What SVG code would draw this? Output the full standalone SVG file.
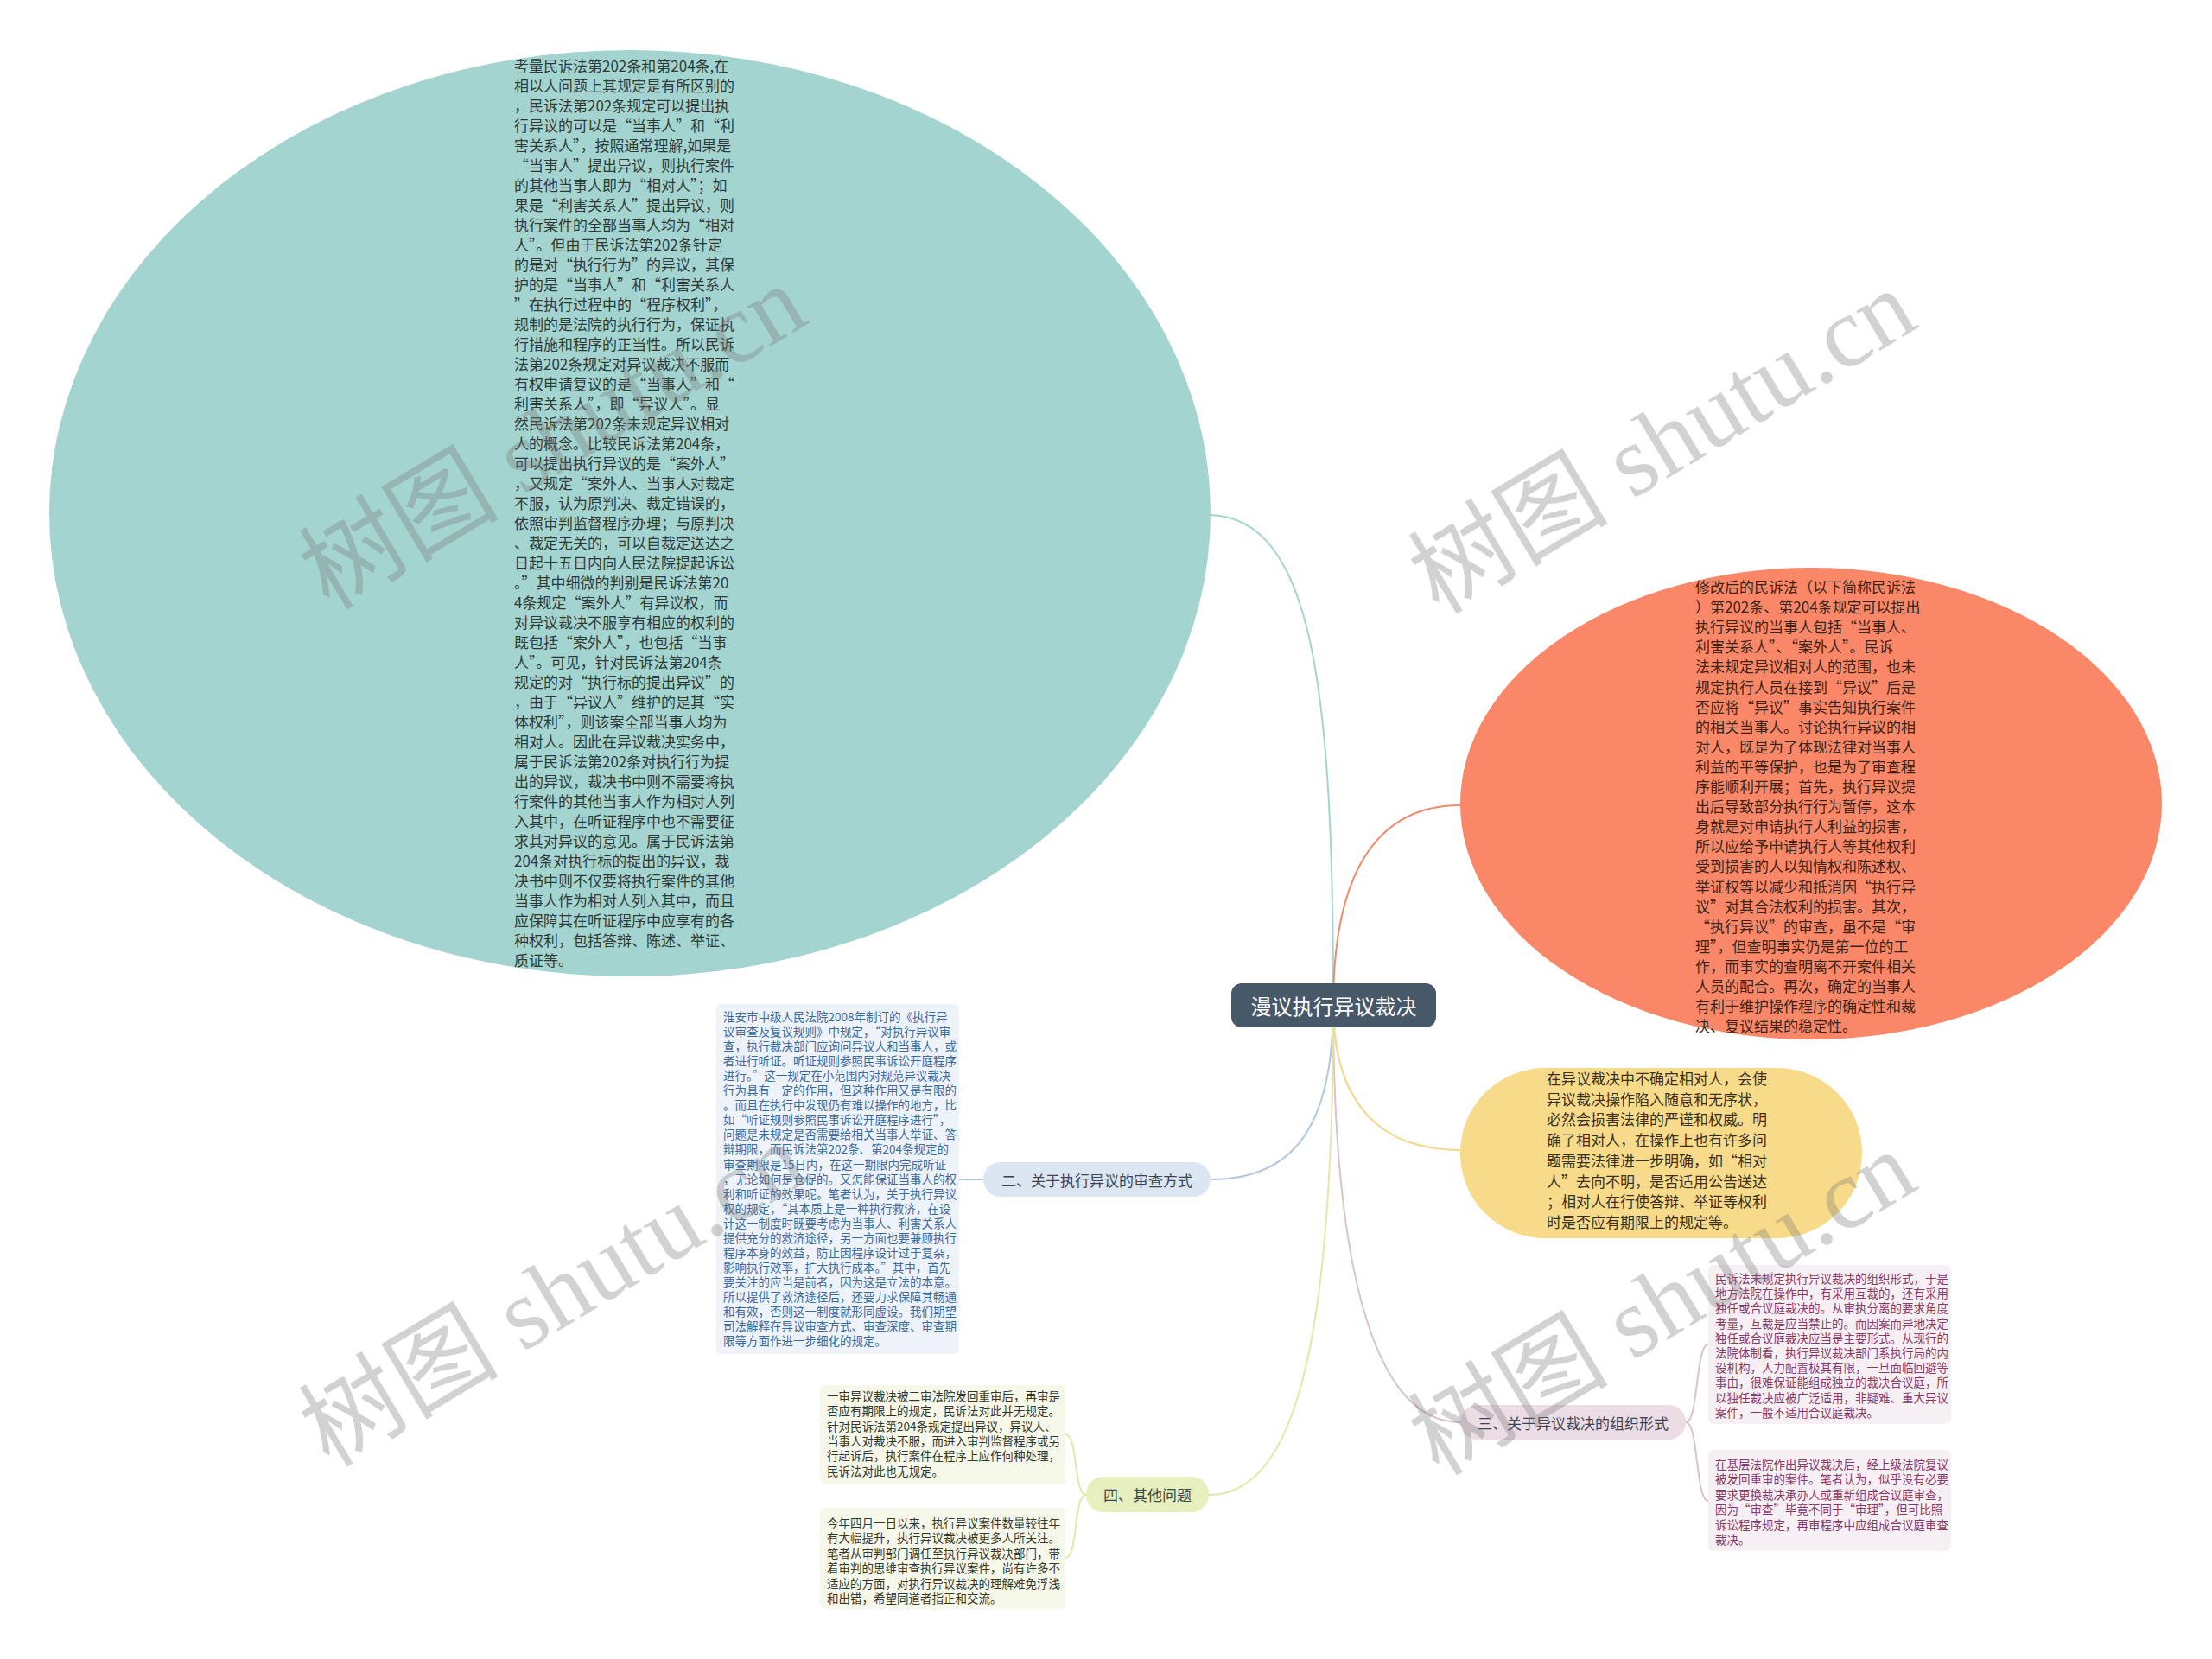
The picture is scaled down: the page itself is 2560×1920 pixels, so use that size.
<svg xmlns="http://www.w3.org/2000/svg" width="2560" height="1920" viewBox="0 0 2560 1920">
<style>
.t{font-family:"Noto Sans CJK SC","Noto Sans",sans-serif;}
.big{font-size:17px;}
.sm{font-size:13.5px;}
.lbl{font-size:17px;text-anchor:middle;dominant-baseline:central;fill:#3b4654;}
.ln{fill:none;stroke-width:2;}
.wm{font-family:"Liberation Serif","Noto Sans CJK SC",serif;font-size:116px;fill:#777;opacity:0.32;text-anchor:middle;}
</style>
<rect width="2560" height="1920" fill="#ffffff"/>
<g id="connectors">
<path class="ln" stroke="#a4d4cf" d="M1543 1163 C1543 800 1520 600 1401 596"/>
<path class="ln" stroke="#f08a6c" d="M1543 1163 C1543 1000 1600 932 1690 932"/>
<path class="ln" stroke="#f3d582" d="M1543 1163 C1543 1280 1600 1331 1690 1331"/>
<path class="ln" stroke="#b0c8e0" d="M1543 1163 C1543 1300 1500 1365 1401 1365"/>
<path class="ln" stroke="#d9c3cf" d="M1543 1163 C1543 1500 1600 1646 1690 1646"/>
<path class="ln" stroke="#e0e8a8" d="M1543 1163 C1543 1550 1500 1730 1399 1730"/>
<path class="ln" stroke="#b0c8e0" d="M1138 1365 L1110 1365"/>
<path class="ln" stroke="#d9c3cf" d="M1951 1646 C1966 1646 1962 1556 1977 1556"/>
<path class="ln" stroke="#d9c3cf" d="M1951 1646 C1966 1646 1962 1737 1977 1737"/>
<path class="ln" stroke="#e0e8a8" d="M1257 1730 C1242 1730 1248 1660 1233 1660"/>
<path class="ln" stroke="#e0e8a8" d="M1257 1730 C1242 1730 1248 1803 1233 1803"/>
</g>
<g id="n-teal">
<ellipse cx="729" cy="594" rx="672" ry="536" fill="#a4d4cf"/>
<text class="t big" fill="#2f3a38">
<tspan x="595" y="83">考量民诉法第202条和第204条,在</tspan>
<tspan x="595" y="106">相以人问题上其规定是有所区别的</tspan>
<tspan x="595" y="129">，民诉法第202条规定可以提出执</tspan>
<tspan x="595" y="152">行异议的可以是“当事人”和“利</tspan>
<tspan x="595" y="175">害关系人”，按照通常理解,如果是</tspan>
<tspan x="595" y="198">“当事人”提出异议，则执行案件</tspan>
<tspan x="595" y="221">的其他当事人即为“相对人”；如</tspan>
<tspan x="595" y="244">果是“利害关系人”提出异议，则</tspan>
<tspan x="595" y="267">执行案件的全部当事人均为“相对</tspan>
<tspan x="595" y="290">人”。但由于民诉法第202条针定</tspan>
<tspan x="595" y="313">的是对“执行行为”的异议，其保</tspan>
<tspan x="595" y="336">护的是“当事人”和“利害关系人</tspan>
<tspan x="595" y="359">”在执行过程中的“程序权利”，</tspan>
<tspan x="595" y="382">规制的是法院的执行行为，保证执</tspan>
<tspan x="595" y="405">行措施和程序的正当性。所以民诉</tspan>
<tspan x="595" y="428">法第202条规定对异议裁决不服而</tspan>
<tspan x="595" y="451">有权申请复议的是“当事人”和“</tspan>
<tspan x="595" y="474">利害关系人”，即“异议人”。显</tspan>
<tspan x="595" y="497">然民诉法第202条未规定异议相对</tspan>
<tspan x="595" y="520">人的概念。比较民诉法第204条，</tspan>
<tspan x="595" y="543">可以提出执行异议的是“案外人”</tspan>
<tspan x="595" y="566">，又规定“案外人、当事人对裁定</tspan>
<tspan x="595" y="589">不服，认为原判决、裁定错误的，</tspan>
<tspan x="595" y="612">依照审判监督程序办理；与原判决</tspan>
<tspan x="595" y="635">、裁定无关的，可以自裁定送达之</tspan>
<tspan x="595" y="658">日起十五日内向人民法院提起诉讼</tspan>
<tspan x="595" y="681">。”其中细微的判别是民诉法第20</tspan>
<tspan x="595" y="704">4条规定“案外人”有异议权，而</tspan>
<tspan x="595" y="727">对异议裁决不服享有相应的权利的</tspan>
<tspan x="595" y="750">既包括“案外人”，也包括“当事</tspan>
<tspan x="595" y="773">人”。可见，针对民诉法第204条</tspan>
<tspan x="595" y="796">规定的对“执行标的提出异议”的</tspan>
<tspan x="595" y="819">，由于“异议人”维护的是其“实</tspan>
<tspan x="595" y="842">体权利”，则该案全部当事人均为</tspan>
<tspan x="595" y="865">相对人。因此在异议裁决实务中，</tspan>
<tspan x="595" y="888">属于民诉法第202条对执行行为提</tspan>
<tspan x="595" y="911">出的异议，裁决书中则不需要将执</tspan>
<tspan x="595" y="934">行案件的其他当事人作为相对人列</tspan>
<tspan x="595" y="957">入其中，在听证程序中也不需要征</tspan>
<tspan x="595" y="980">求其对异议的意见。属于民诉法第</tspan>
<tspan x="595" y="1003">204条对执行标的提出的异议，裁</tspan>
<tspan x="595" y="1026">决书中则不仅要将执行案件的其他</tspan>
<tspan x="595" y="1049">当事人作为相对人列入其中，而且</tspan>
<tspan x="595" y="1072">应保障其在听证程序中应享有的各</tspan>
<tspan x="595" y="1095">种权利，包括答辩、陈述、举证、</tspan>
<tspan x="595" y="1118">质证等。</tspan>
</text>
</g>
<g id="n-orange">
<ellipse cx="2096" cy="930" rx="406" ry="273" fill="#fa8868"/>
<text class="t big" fill="#3a2418">
<tspan x="1962" y="686">修改后的民诉法（以下简称民诉法</tspan>
<tspan x="1962" y="709.1">）第202条、第204条规定可以提出</tspan>
<tspan x="1962" y="732.2">执行异议的当事人包括“当事人、</tspan>
<tspan x="1962" y="755.3">利害关系人”、“案外人”。民诉</tspan>
<tspan x="1962" y="778.4">法未规定异议相对人的范围，也未</tspan>
<tspan x="1962" y="801.5">规定执行人员在接到“异议”后是</tspan>
<tspan x="1962" y="824.6">否应将“异议”事实告知执行案件</tspan>
<tspan x="1962" y="847.7">的相关当事人。讨论执行异议的相</tspan>
<tspan x="1962" y="870.8">对人，既是为了体现法律对当事人</tspan>
<tspan x="1962" y="893.9">利益的平等保护，也是为了审查程</tspan>
<tspan x="1962" y="917">序能顺利开展；首先，执行异议提</tspan>
<tspan x="1962" y="940.1">出后导致部分执行行为暂停，这本</tspan>
<tspan x="1962" y="963.2">身就是对申请执行人利益的损害，</tspan>
<tspan x="1962" y="986.3">所以应给予申请执行人等其他权利</tspan>
<tspan x="1962" y="1009.4">受到损害的人以知情权和陈述权、</tspan>
<tspan x="1962" y="1032.5">举证权等以减少和抵消因“执行异</tspan>
<tspan x="1962" y="1055.6">议”对其合法权利的损害。其次，</tspan>
<tspan x="1962" y="1078.7">“执行异议”的审查，虽不是“审</tspan>
<tspan x="1962" y="1101.8">理”，但查明事实仍是第一位的工</tspan>
<tspan x="1962" y="1124.9">作，而事实的查明离不开案件相关</tspan>
<tspan x="1962" y="1148">人员的配合。再次，确定的当事人</tspan>
<tspan x="1962" y="1171.1">有利于维护操作程序的确定性和裁</tspan>
<tspan x="1962" y="1194.2">决、复议结果的稳定性。</tspan>
</text>
</g>
<g id="n-yellow">
<rect x="1690" y="1236" width="465" height="197" rx="98" ry="98" fill="#f8db8a"/>
<text class="t big" fill="#3a3020">
<tspan x="1790" y="1255">在异议裁决中不确定相对人，会使</tspan>
<tspan x="1790" y="1278.7">异议裁决操作陷入随意和无序状，</tspan>
<tspan x="1790" y="1302.4">必然会损害法律的严谨和权威。明</tspan>
<tspan x="1790" y="1326.1">确了相对人，在操作上也有许多问</tspan>
<tspan x="1790" y="1349.8">题需要法律进一步明确，如“相对</tspan>
<tspan x="1790" y="1373.5">人”去向不明，是否适用公告送达</tspan>
<tspan x="1790" y="1397.2">；相对人在行使答辩、举证等权利</tspan>
<tspan x="1790" y="1420.9">时是否应有期限上的规定等。</tspan>
</text>
</g>
<g id="n-root">
<rect x="1425" y="1138" width="237" height="51" rx="12" ry="12" fill="#475869"/>
<text class="t" x="1543.5" y="1163.5" font-size="24" fill="#ffffff" text-anchor="middle" dominant-baseline="central">漫议执行异议裁决</text>
</g>
<g id="n-b2">
<rect x="1138" y="1345" width="263" height="40" rx="20" ry="20" fill="#dbe6f2"/>
<text class="t lbl" x="1269.5" y="1365">二、关于执行异议的审查方式</text>
</g>
<g id="n-b2-text">
<rect x="829" y="1162" width="281" height="405" rx="6" ry="6" fill="#eef3f9"/>
<text class="t sm" fill="#3a6aa0">
<tspan x="837" y="1182">淮安市中级人民法院2008年制订的《执行异</tspan>
<tspan x="837" y="1199.05">议审查及复议规则》中规定，“对执行异议审</tspan>
<tspan x="837" y="1216.1">查，执行裁决部门应询问异议人和当事人，或</tspan>
<tspan x="837" y="1233.15">者进行听证。听证规则参照民事诉讼开庭程序</tspan>
<tspan x="837" y="1250.2">进行。”这一规定在小范围内对规范异议裁决</tspan>
<tspan x="837" y="1267.25">行为具有一定的作用，但这种作用又是有限的</tspan>
<tspan x="837" y="1284.3">。而且在执行中发现仍有难以操作的地方，比</tspan>
<tspan x="837" y="1301.35">如“听证规则参照民事诉讼开庭程序进行”，</tspan>
<tspan x="837" y="1318.4">问题是未规定是否需要给相关当事人举证、答</tspan>
<tspan x="837" y="1335.45">辩期限，而民诉法第202条、第204条规定的</tspan>
<tspan x="837" y="1352.5">审查期限是15日内，在这一期限内完成听证</tspan>
<tspan x="837" y="1369.55">，无论如何是仓促的。又怎能保证当事人的权</tspan>
<tspan x="837" y="1386.6">利和听证的效果呢。笔者认为，关于执行异议</tspan>
<tspan x="837" y="1403.65">权的规定，“其本质上是一种执行救济，在设</tspan>
<tspan x="837" y="1420.7">计这一制度时既要考虑为当事人、利害关系人</tspan>
<tspan x="837" y="1437.75">提供充分的救济途径，另一方面也要兼顾执行</tspan>
<tspan x="837" y="1454.8">程序本身的效益，防止因程序设计过于复杂，</tspan>
<tspan x="837" y="1471.85">影响执行效率，扩大执行成本。”其中，首先</tspan>
<tspan x="837" y="1488.9">要关注的应当是前者，因为这是立法的本意。</tspan>
<tspan x="837" y="1505.95">所以提供了救济途径后，还要力求保障其畅通</tspan>
<tspan x="837" y="1523">和有效，否则这一制度就形同虚设。我们期望</tspan>
<tspan x="837" y="1540.05">司法解释在异议审查方式、审查深度、审查期</tspan>
<tspan x="837" y="1557.1">限等方面作进一步细化的规定。</tspan>
</text>
</g>
<g id="n-b3">
<rect x="1690" y="1626" width="261" height="40" rx="20" ry="20" fill="#ecdce5"/>
<text class="t lbl" x="1820.5" y="1646">三、关于异议裁决的组织形式</text>
</g>
<g id="n-b3-text1">
<rect x="1977" y="1464" width="281" height="184" rx="6" ry="6" fill="#f6eff3"/>
<text class="t sm" fill="#8a3868">
<tspan x="1985" y="1485">民诉法未规定执行异议裁决的组织形式，于是</tspan>
<tspan x="1985" y="1502.2">地方法院在操作中，有采用互裁的，还有采用</tspan>
<tspan x="1985" y="1519.4">独任或合议庭裁决的。从审执分离的要求角度</tspan>
<tspan x="1985" y="1536.6">考量，互裁是应当禁止的。而因案而异地决定</tspan>
<tspan x="1985" y="1553.8">独任或合议庭裁决应当是主要形式。从现行的</tspan>
<tspan x="1985" y="1571">法院体制看，执行异议裁决部门系执行局的内</tspan>
<tspan x="1985" y="1588.2">设机构，人力配置极其有限，一旦面临回避等</tspan>
<tspan x="1985" y="1605.4">事由，很难保证能组成独立的裁决合议庭，所</tspan>
<tspan x="1985" y="1622.6">以独任裁决应被广泛适用，非疑难、重大异议</tspan>
<tspan x="1985" y="1639.8">案件，一般不适用合议庭裁决。</tspan>
</text>
</g>
<g id="n-b3-text2">
<rect x="1977" y="1678" width="281" height="117" rx="6" ry="6" fill="#f6eff3"/>
<text class="t sm" fill="#8a3868">
<tspan x="1985" y="1700">在基层法院作出异议裁决后，经上级法院复议</tspan>
<tspan x="1985" y="1717.4">被发回重审的案件。笔者认为，似乎没有必要</tspan>
<tspan x="1985" y="1734.8">要求更换裁决承办人或重新组成合议庭审查，</tspan>
<tspan x="1985" y="1752.2">因为“审查”毕竟不同于“审理”，但可比照</tspan>
<tspan x="1985" y="1769.6">诉讼程序规定，再审程序中应组成合议庭审查</tspan>
<tspan x="1985" y="1787">裁决。</tspan>
</text>
</g>
<g id="n-b4">
<rect x="1257" y="1709" width="142" height="41" rx="20" ry="20" fill="#e6efbd"/>
<text class="t lbl" x="1328" y="1729.5">四、其他问题</text>
</g>
<g id="n-b4-text1">
<rect x="949" y="1603" width="284" height="115" rx="6" ry="6" fill="#f6f8ea"/>
<text class="t sm" fill="#33362a">
<tspan x="957" y="1621">一审异议裁决被二审法院发回重审后，再审是</tspan>
<tspan x="957" y="1638.3">否应有期限上的规定，民诉法对此并无规定。</tspan>
<tspan x="957" y="1655.6">针对民诉法第204条规定提出异议，异议人、</tspan>
<tspan x="957" y="1672.9">当事人对裁决不服，而进入审判监督程序或另</tspan>
<tspan x="957" y="1690.2">行起诉后，执行案件在程序上应作何种处理，</tspan>
<tspan x="957" y="1707.5">民诉法对此也无规定。</tspan>
</text>
</g>
<g id="n-b4-text2">
<rect x="949" y="1745" width="284" height="117" rx="6" ry="6" fill="#f6f8ea"/>
<text class="t sm" fill="#33362a">
<tspan x="957" y="1768">今年四月一日以来，执行异议案件数量较往年</tspan>
<tspan x="957" y="1785.4">有大幅提升，执行异议裁决被更多人所关注。</tspan>
<tspan x="957" y="1802.8">笔者从审判部门调任至执行异议裁决部门，带</tspan>
<tspan x="957" y="1820.2">着审判的思维审查执行异议案件，尚有许多不</tspan>
<tspan x="957" y="1837.6">适应的方面，对执行异议裁决的理解难免浮浅</tspan>
<tspan x="957" y="1855">和出错，希望同道者指正和交流。</tspan>
</text>
</g>
<g id="watermarks">
<text class="wm" transform="translate(660 540) rotate(-31)">树图 shutu.cn</text>
<text class="wm" transform="translate(1944 545) rotate(-31)">树图 shutu.cn</text>
<text class="wm" transform="translate(660 1532) rotate(-31)">树图 shutu.cn</text>
<text class="wm" transform="translate(1944 1542) rotate(-31)">树图 shutu.cn</text>
</g>
</svg>
